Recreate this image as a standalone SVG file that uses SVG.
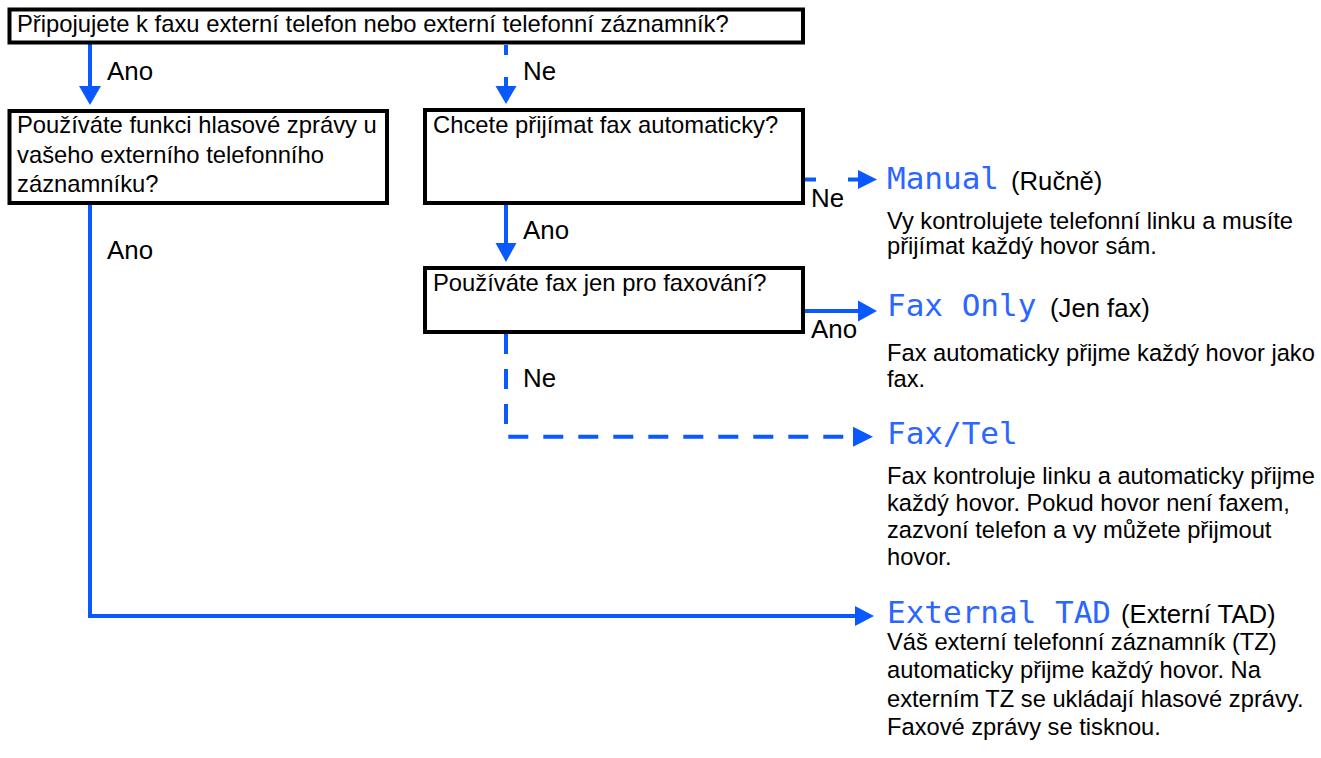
<svg xmlns="http://www.w3.org/2000/svg" width="1321" height="758" viewBox="0 0 1321 758">
<style>
.box{fill:#fff;stroke:#000;stroke-width:4}
.t{font-family:"Liberation Sans",Arial,sans-serif;font-size:23.8px;fill:#000}
.d{font-family:"Liberation Sans",Arial,sans-serif;font-size:23.7px;fill:#000}
.lbl{font-family:"Liberation Sans",Arial,sans-serif;font-size:25.9px;fill:#000}
.par{font-family:"Liberation Sans",Arial,sans-serif;font-size:25.7px;fill:#000}
.mode{font-family:"DejaVu Sans Mono","Liberation Mono",monospace;font-size:31px;fill:#2a66ff}
.ln{fill:none;stroke:#0a58ff;stroke-width:4}
.dash{fill:none;stroke:#0a58ff;stroke-width:4;stroke-dasharray:20 15}
.ah{fill:#0a58ff}
</style>
<rect width="1321" height="758" fill="#fff"/>
<g id="connectors">
<line class="ln" x1="90" y1="44" x2="90" y2="88"/>
<polygon class="ah" points="79,86 101,86 90,105"/>
<text class="lbl" x="107" y="80">Ano</text>
<line class="ln" x1="506" y1="45" x2="506" y2="55"/>
<line class="ln" x1="506" y1="77" x2="506" y2="88"/>
<polygon class="ah" points="495.5,86 516.5,86 506,104"/>
<text class="lbl" x="523" y="80">Ne</text>
<line class="ln" x1="506" y1="205" x2="506" y2="245"/>
<polygon class="ah" points="495.5,243 516.5,243 506,262"/>
<text class="lbl" x="523" y="239">Ano</text>
<line class="ln" x1="803" y1="179.5" x2="816" y2="179.5"/>
<line class="ln" x1="848" y1="179.5" x2="860" y2="179.5"/>
<polygon class="ah" points="858,170 858,189 877,179.5"/>
<text class="lbl" x="811" y="207">Ne</text>
<line class="ln" x1="803" y1="311" x2="860" y2="311"/>
<polygon class="ah" points="858,300.5 858,321.5 877,311"/>
<text class="lbl" x="811" y="338">Ano</text>
<path class="dash" d="M506,334 V436.7 H856"/>
<polygon class="ah" points="853,426.7 853,446.7 873,436.7"/>
<text class="lbl" x="523" y="387">Ne</text>
<path class="ln" d="M90,205 V616 H857"/>
<polygon class="ah" points="855,606 855,626 874,616"/>
<text class="lbl" x="107" y="259">Ano</text>
</g>
<g id="q1">
<rect class="box" x="9.5" y="9.5" width="793.5" height="33"/>
<text class="t" x="17" y="32">Připojujete k faxu externí telefon nebo externí telefonní záznamník?</text>
</g>
<g id="q2">
<rect class="box" x="9.5" y="111" width="377.5" height="92"/>
<text class="t" x="17" y="133">Používáte funkci hlasové zprávy u</text>
<text class="t" x="17" y="162.5">vašeho externího telefonního</text>
<text class="t" x="17" y="192">záznamníku?</text>
</g>
<g id="q3">
<rect class="box" x="425" y="110" width="378" height="93"/>
<text class="t" x="433" y="133">Chcete přijímat fax automaticky?</text>
</g>
<g id="q4">
<rect class="box" x="425" y="268" width="378" height="64"/>
<text class="t" x="433" y="291">Používáte fax jen pro faxování?</text>
</g>
<g id="manual">
<text class="mode" x="887" y="189">Manual</text>
<text class="par" x="1011" y="190">(Ručně)</text>
<text class="d" x="887" y="229">Vy kontrolujete telefonní linku a musíte</text>
<text class="d" x="887" y="254">přijímat každý hovor sám.</text>
</g>
<g id="faxonly">
<text class="mode" x="887" y="316">Fax Only</text>
<text class="par" x="1050" y="317">(Jen fax)</text>
<text class="d" x="887" y="361">Fax automaticky přijme každý hovor jako</text>
<text class="d" x="887" y="387">fax.</text>
</g>
<g id="faxtel">
<text class="mode" x="887" y="444">Fax/Tel</text>
<text class="d" x="887" y="484">Fax kontroluje linku a automaticky přijme</text>
<text class="d" x="887" y="511">každý hovor. Pokud hovor není faxem,</text>
<text class="d" x="887" y="538">zazvoní telefon a vy můžete přijmout</text>
<text class="d" x="887" y="565">hovor.</text>
</g>
<g id="externaltad">
<text class="mode" x="887" y="623">External TAD</text>
<text class="par" x="1121" y="623">(Externí TAD)</text>
<text class="d" x="887" y="650">Váš externí telefonní záznamník (TZ)</text>
<text class="d" x="887" y="678">automaticky přijme každý hovor. Na</text>
<text class="d" x="887" y="707">externím TZ se ukládají hlasové zprávy.</text>
<text class="d" x="887" y="735">Faxové zprávy se tisknou.</text>
</g>
</svg>
